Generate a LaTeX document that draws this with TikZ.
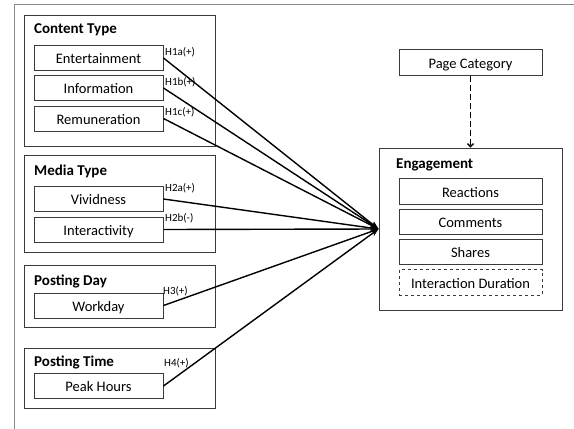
\documentclass[tikz,border=0pt]{standalone}
\usepackage{fontspec}
\setmainfont{Carlito}
\usetikzlibrary{arrows.meta}
\definecolor{bord}{HTML}{3A3A3A}
\definecolor{frame}{HTML}{8A8A8A}
\tikzset{
  grpbox/.style={draw=bord, line width=1pt, minimum width=191pt, inner sep=0pt},
  inbox/.style={draw=bord, line width=1pt, minimum width=129pt, minimum height=25pt, inner sep=0pt, text height=11.5pt, text depth=0pt, font=\fontsize{14.5}{16}\selectfont},
  rbox/.style={draw=bord, line width=1pt, minimum width=143pt, minimum height=25.5pt, inner sep=0pt, text height=11.5pt, text depth=0pt, font=\fontsize{14.5}{16}\selectfont},
  grptitle/.style={anchor=base west, inner sep=0pt, font=\fontsize{15}{17}\selectfont\bfseries},
  hlab/.style={anchor=base west, inner sep=0pt, font=\fontsize{11}{12}\selectfont},
  link/.style={line width=1.4pt, -{Stealth[length=8pt,width=6pt]}},
}
\begin{document}
\begin{tikzpicture}[x=1pt,y=-1pt]
\useasboundingbox (0,0) rectangle (574,429);
% outer frame
\draw[frame, line width=1pt] (14,429) -- (14,4) -- (574,4);
% group boxes
\node[grpbox, minimum height=131pt] (ctype) at (119.5,80.5) {};
\node[grpbox, minimum height=97pt] (mtype) at (119.5,203.5) {};
\node[grpbox, minimum height=62pt] (pday) at (119.5,296) {};
\node[grpbox, minimum height=60pt] (ptime) at (119.5,378) {};
\node[grptitle] (ctypet) at (34,33) {Content Type};
\node[grptitle] (mtypet) at (34,175) {Media Type};
\node[grptitle] (pdayt) at (34,285) {Posting Day};
\node[grptitle] (ptimet) at (34,366) {Posting Time};
% inner boxes
\node[inbox] (ent) at (98.5,58) {Entertainment};
\node[inbox] (inf) at (98.5,88) {Information};
\node[inbox] (rem) at (98.5,118.5) {Remuneration};
\node[inbox] (viv) at (98.5,199) {Vividness};
\node[inbox] (int) at (98.5,229.5) {Interactivity};
\node[inbox] (wd) at (98.5,305.5) {Workday};
\node[inbox] (ph) at (98.5,386) {Peak Hours};
% right side
\node[rbox] (pc) at (470.5,62.5) {Page Category};
\node[draw=bord, line width=1pt, minimum width=183pt, minimum height=162pt, inner sep=0pt] (eng) at (470.5,229) {};
\node[grptitle] (engt) at (396,168) {Engagement};
\node[rbox] (rea) at (470.5,191.5) {Reactions};
\node[rbox] (com) at (470.5,222) {Comments};
\node[rbox] (sha) at (470.5,252) {Shares};
\node[rbox, dashed] (idu) at (470.5,282.5) {Interaction Duration};
% links
\draw[link] (ent.east) -- (eng.west);
\draw[link] (inf.east) -- (eng.west);
\draw[link] (rem.east) -- (eng.west);
\draw[link] (viv.east) -- (eng.west);
\draw[link] (int.east) -- (eng.west);
\draw[link] (wd.east) -- (eng.west);
\draw[link] (ph.east) -- (eng.west);
\draw[line width=1.3pt, dash pattern=on 6pt off 3pt, -{Straight Barb[length=3pt,width=6pt]}] (pc.south) -- (eng.north);
% labels
\node[hlab] (l1) at (165,55) {H1a(+)};
\node[hlab] (l2) at (165,85.5) {H1b(+)};
\node[hlab] (l3) at (165,115.5) {H1c(+)};
\node[hlab] (l4) at (165,191.5) {H2a(+)};
\node[hlab] (l5) at (165,221.5) {H2b(-)};
\node[hlab] (l6) at (163,294.5) {H3(+)};
\node[hlab] (l7) at (164,366.5) {H4(+)};
\end{tikzpicture}
\end{document}
